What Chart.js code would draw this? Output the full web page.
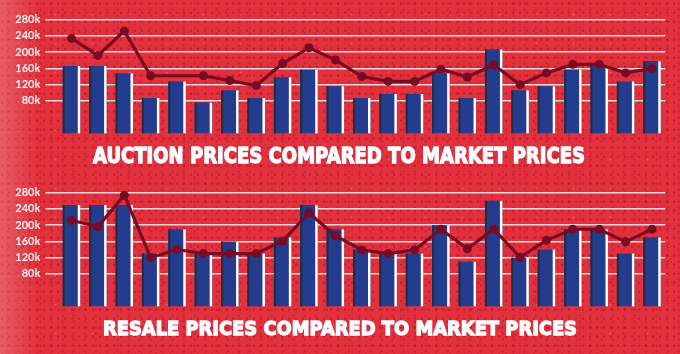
<!DOCTYPE html>
<html>
<head>
<meta charset="utf-8">
<script src="https://cdn.jsdelivr.net/npm/chart.js@4"></script>
<style>
  html, body { margin: 0; padding: 0; }
  body {
    width: 680px; height: 354px; overflow: hidden; position: relative;
    background-color: #e3303d;
    background-image:
      linear-gradient(90deg, rgba(255,210,200,0.28) 0px, rgba(255,210,200,0.0) 38px),
      radial-gradient(circle at 30% 40%, rgba(140,10,30,0.4) 0.8px, rgba(140,10,30,0) 1.6px),
      radial-gradient(circle at 70% 60%, rgba(150,15,35,0.3) 0.8px, rgba(150,15,35,0) 1.7px),
      radial-gradient(circle at 50% 50%, rgba(255,230,230,0.25) 0.5px, rgba(255,230,230,0) 1.2px);
    background-size: 100% 100%, 7px 9px, 11px 6px, 37px 29px;
  }
  canvas { position: absolute; left: 0; }
  #c1 { top: 0px; }
  #c2 { top: 172.7px; }
  .ttl {
    position: absolute; left: 0; white-space: nowrap; color: #ffffff;
    font-family: "DejaVu Sans", sans-serif; font-weight: bold;
    transform-origin: 0 0; line-height: 1;
    -webkit-text-stroke: 1.3px #ffffff;
    text-shadow: 0.7px 0 0 rgba(120,120,255,0.5), -0.7px 0 0 rgba(255,160,160,0.5);
  }
  #t1 { font-size: 22px; }
  #t2 { font-size: 20px; }
</style>
</head>
<body>
<canvas id="c1" width="680" height="172"></canvas>
<canvas id="c2" width="680" height="172"></canvas>
<div class="ttl" id="t1">AUCTION PRICES COMPARED TO MARKET PRICES</div>
<div class="ttl" id="t2">RESALE PRICES COMPARED TO MARKET PRICES</div>
<script>
// ---- data (values in thousands) ----
const categories = ['1','2','3','4','5','6','7','8','9','10','11','12','13','14','15','16','17','18','19','20','21','22','23'];
const auctionBars = [166,166,148,87,128,76,106,87,138,157,116,87,97,97,148,87,207,106,116,157,167,128,178];
const auctionLine = [234,192,252,142,142,142,130,118,172,211,181,140,128,128,158,139,169,120,149,170,170,149,160];
const resaleBars  = [250,250,250,130,190,130,160,130,170,250,190,140,130,130,200,110,260,120,140,190,190,130,170];
const resaleLine  = [212,196,274,120,140,130,130,130,161,230,174,139,130,139,190,142,190,121,163,190,190,159,190];
const tickValues = [80,120,160,200,240,280];
const tickLabels = ['80k','120k','160k','200k','240k','280k'];
const titles = ['AUCTION PRICES COMPARED TO MARKET PRICES','RESALE PRICES COMPARED TO MARKET PRICES'];

const BAR_BLUE = '#233c8d';
const LINE_RED = '#780a24';

const barEdges = {
  id: 'barEdges',
  afterDatasetDraw(chart, args) {
    const meta = args.meta;
    if (meta.type !== 'bar') return;
    const ctx = chart.ctx;
    ctx.save();
    meta.data.forEach(el => {
      const p = el.getProps(['x','y','width','base'], true);
      const l = p.x - p.width / 2, r = p.x + p.width / 2;
      const top = Math.min(p.y, p.base), h = Math.abs(p.base - p.y);
      ctx.fillStyle = '#1b3044';
      ctx.fillRect(l, top, 2, h);
      ctx.fillStyle = '#ffffff';
      ctx.fillRect(r - 2.5, top, 2.5, h);
    });
    ctx.restore();
  }
};

function makeChart(id, bars, line, radii) {
  return new Chart(document.getElementById(id), {
    data: {
      labels: categories,
      datasets: [
        {
          type: 'line', data: line, order: 0,
          borderColor: LINE_RED, backgroundColor: LINE_RED,
          borderWidth: 3.2, pointRadius: radii, pointHoverRadius: radii,
          pointBackgroundColor: LINE_RED, pointBorderWidth: 0, tension: 0
        },
        {
          type: 'bar', data: bars, order: 1,
          backgroundColor: BAR_BLUE, borderWidth: 0,
          barPercentage: 0.663, categoryPercentage: 1.0
        }
      ]
    },
    options: {
      responsive: false, animation: false, devicePixelRatio: 1,
      layout: { padding: { left: 0, right: 14.8, top: 8.3, bottom: 36.2 } },
      plugins: { legend: { display: false }, tooltip: { enabled: false }, title: { display: false } },
      scales: {
        x: { display: false, offset: true },
        y: {
          min: -6, max: 300,
          afterBuildTicks: s => { s.ticks = tickValues.map(v => ({ value: v })); },
          afterFit: s => { s.width = 58.3; },
          border: { display: false },
          grid: { color: 'rgba(255,255,255,0.82)', lineWidth: 1.5, tickLength: 13, drawTicks: true },
          ticks: {
            padding: 5, color: '#fff2f2',
            font: { family: 'Lato', weight: 'bold', size: 11 },
            callback: (v) => { const i = tickValues.indexOf(v); return i >= 0 ? tickLabels[i] : ''; }
          }
        }
      }
    },
    plugins: [barEdges]
  });
}

const topRadii = auctionLine.map((v, i) => i === 4 ? 0 : 4.5);
const botRadii = resaleLine.map(() => 4.5);
makeChart('c1', auctionBars, auctionLine, topRadii);
makeChart('c2', resaleBars, resaleLine, botRadii);

// titles: fit to measured layout width
function placeTitle(id, text, left, width, capTop) {
  const el = document.getElementById(id);
  el.textContent = text;
  const w = el.getBoundingClientRect().width;
  const fs = parseFloat(getComputedStyle(el).fontSize);
  const s = width / w;
  el.style.left = left + 'px';
  el.style.top = (capTop - fs * 0.2) + 'px';
  el.style.transform = 'scaleX(' + s + ')';
}
placeTitle('t1', titles[0], 93, 492, 149);
placeTitle('t2', titles[1], 102.7, 474, 322);
</script>
</body>
</html>
